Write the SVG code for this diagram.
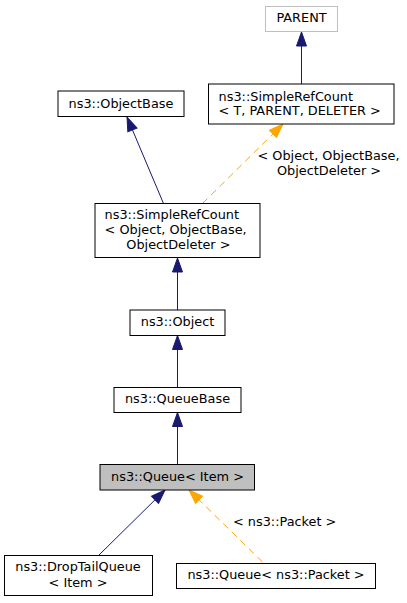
<svg xmlns="http://www.w3.org/2000/svg" width="407" height="603" viewBox="0 0 407 603">
<style>
text{font-family:"DejaVu Sans","Liberation Sans",sans-serif;font-size:12.85px;fill:#000}
.c{text-anchor:middle}
.s{text-anchor:start}
.box{fill:#fff;stroke:#000;stroke-width:1}
.gray{fill:#fff;stroke:#bfbfbf;stroke-width:1}
.cur{fill:#bfbfbf;stroke:#000;stroke-width:1}
.inh{fill:none;stroke:#191970;stroke-width:1}
.tpl{fill:none;stroke:#ffa500;stroke-width:1;stroke-dasharray:7,5}
</style>
<defs>
<marker id="ab" markerUnits="userSpaceOnUse" markerWidth="16" markerHeight="12" refX="14" refY="5" orient="auto" viewBox="-1 -1 16 12">
<path d="M0,0 L14,5 L0,10 z" fill="#191970" stroke="#191970" stroke-width="1"/>
</marker>
<marker id="ao" markerUnits="userSpaceOnUse" markerWidth="16" markerHeight="12" refX="14" refY="5" orient="auto" viewBox="-1 -1 16 12">
<path d="M0,0 L14,5 L0,10 z" fill="#ffa500" stroke="#ffa500" stroke-width="1"/>
</marker>
</defs>
<g id="edges">
<path class="inh" d="M301.5,84 L301.5,32" marker-end="url(#ab)"/>
<path class="inh" d="M163.5,203.5 L127,117" marker-end="url(#ab)"/>
<path class="tpl" d="M202.5,203.5 L283,124" marker-end="url(#ao)"/>
<path class="inh" d="M177.5,310 L177.5,258" marker-end="url(#ab)"/>
<path class="inh" d="M177.5,387.5 L177.5,335.5" marker-end="url(#ab)"/>
<path class="inh" d="M177.5,464.5 L177.5,412.5" marker-end="url(#ab)"/>
<path class="inh" d="M98.5,555.5 L165,490" marker-end="url(#ab)"/>
<path class="tpl" d="M262.5,562 L189,490" marker-end="url(#ao)"/>
<text class="c" x="328.5" y="160.3">&lt; Object, ObjectBase,</text>
<text class="c" x="329" y="175.3">ObjectDeleter &gt;</text>
<text class="c" x="284.7" y="525.6">&lt; ns3::Packet &gt;</text>
</g>
<g id="parent">
<rect class="gray" x="265.5" y="6.5" width="72" height="25"/>
<text class="c" x="301.5" y="22.3">PARENT</text>
</g>
<g id="simplerefcount_t">
<rect class="box" x="208.5" y="84" width="185.5" height="40"/>
<text class="s" x="218.6" y="100.6">ns3::SimpleRefCount</text>
<text class="s" x="218.6" y="115.3">&lt; T, PARENT, DELETER &gt;</text>
</g>
<g id="objectbase">
<rect class="box" x="58" y="91" width="126" height="25.5"/>
<text class="c" x="121" y="107.5">ns3::ObjectBase</text>
</g>
<g id="simplerefcount_object">
<rect class="box" x="95" y="203.5" width="165" height="54"/>
<text class="s" x="104.6" y="219">ns3::SimpleRefCount</text>
<text class="s" x="104.6" y="233.7">&lt; Object, ObjectBase,</text>
<text class="s" x="126.3" y="249">ObjectDeleter &gt;</text>
</g>
<g id="object">
<rect class="box" x="130" y="310" width="95" height="25.5"/>
<text class="c" x="177.5" y="326.3">ns3::Object</text>
</g>
<g id="queuebase">
<rect class="box" x="114" y="387.5" width="127" height="25"/>
<text class="c" x="177.5" y="403">ns3::QueueBase</text>
</g>
<g id="queue_item">
<rect class="cur" x="100" y="464.5" width="154.5" height="25.5"/>
<text class="c" x="177.5" y="481.3">ns3::Queue&lt; Item &gt;</text>
</g>
<g id="droptailqueue">
<rect class="box" x="4.5" y="555.5" width="148" height="40"/>
<text class="c" x="78" y="571.3">ns3::DropTailQueue</text>
<text class="c" x="78" y="587">&lt; Item &gt;</text>
</g>
<g id="queue_packet">
<rect class="box" x="176.5" y="563.5" width="199" height="25"/>
<text class="c" x="276" y="579.3">ns3::Queue&lt; ns3::Packet &gt;</text>
</g>
</svg>
